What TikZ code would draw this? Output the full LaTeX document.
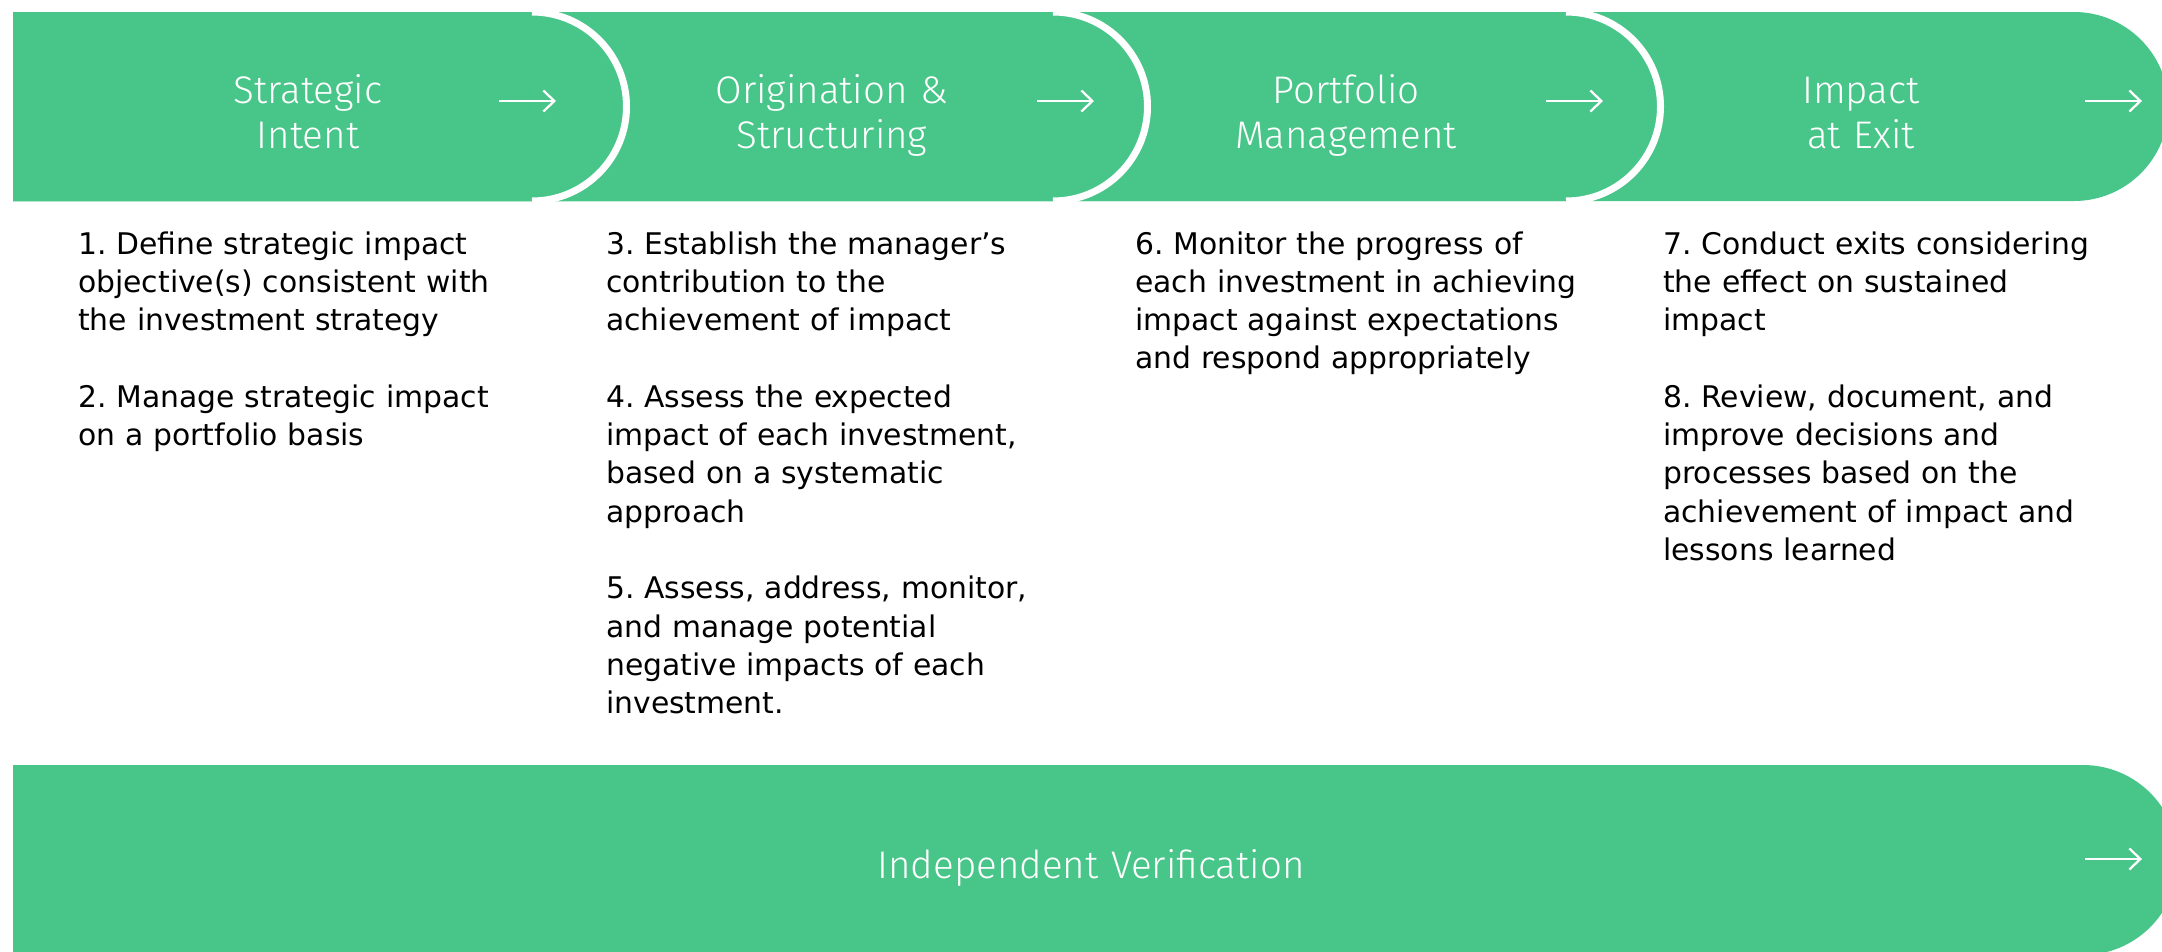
\documentclass[tikz,border=0pt]{standalone}
\usepackage{fontspec}
\setmainfont{DejaVu Sans}
\newfontfamily\headfont{Fira Sans Light}
\usetikzlibrary{arrows.meta}
\definecolor{brandgreen}{RGB}{72,197,137}
\frenchspacing
\tikzset{
  seg/.style={fill=brandgreen},
  capline/.style={draw=white,line width=7pt},
  stagearrow/.style={draw=white,line width=2.3pt,-{Straight Barb[length=11pt,width=21pt]}},
  heading/.style={text=white,font=\headfont\fontsize{38.5}{45}\selectfont,align=center,text width=420pt,anchor=base,inner sep=0pt},
  body/.style={text=black,font=\frenchspacing\fontsize{29.8}{38.3}\selectfont,align=left,text width=520pt,anchor=base west,inner sep=0pt}
}
\begin{document}
\begin{tikzpicture}[x=1pt,y=-1pt]
\useasboundingbox (0,0) rectangle (2162,951);
\clip (0,0) rectangle (2162,951);
% top band
\begin{scope}
\clip (0,12) rectangle (2162,201);
\fill[seg] (13,12) -- (2074,12) arc[start angle=-90,end angle=90,radius=94.5] -- (13,201) -- cycle;
\fill[seg] (13,12) -- (1566,12) arc[start angle=-90,end angle=90,radius=94.5] -- (13,201) -- cycle;
\draw[capline] (1566,12) arc[start angle=-90,end angle=90,radius=94.5];
\fill[seg] (13,12) -- (1053,12) arc[start angle=-90,end angle=90,radius=94.5] -- (13,201) -- cycle;
\draw[capline] (1053,12) arc[start angle=-90,end angle=90,radius=94.5];
\fill[seg] (13,12) -- (532,12) arc[start angle=-90,end angle=90,radius=94.5] -- (13,201) -- cycle;
\draw[capline] (532,12) arc[start angle=-90,end angle=90,radius=94.5];
\end{scope}
% bottom bar
\fill[seg] (13,765) -- (2083,765) arc[start angle=-90,end angle=90,radius=95] -- (13,955) -- cycle;
% headings
\node[heading] (h1) at (308,103) {Strategic\\Intent};
\node[heading] (h2) at (832,103) {Origination \&\\Structuring};
\node[heading] (h3) at (1346,103) {Portfolio\\Management};
\node[heading] (h4) at (1861,103) {Impact\\at Exit};
\node[heading,text width=800pt] (hv) at (1091,878) {Independent Verification};
% arrows
\coordinate (a1s) at (499,101); \coordinate (a1e) at (556,101);
\coordinate (a2s) at (1037,101); \coordinate (a2e) at (1094,101);
\coordinate (a3s) at (1546,101); \coordinate (a3e) at (1603,101);
\coordinate (a4s) at (2085,101); \coordinate (a4e) at (2142,101);
\coordinate (a5s) at (2085,859); \coordinate (a5e) at (2142,859);
\draw[stagearrow] (a1s) -- (a1e);
\draw[stagearrow] (a2s) -- (a2e);
\draw[stagearrow] (a3s) -- (a3e);
\draw[stagearrow] (a4s) -- (a4e);
\draw[stagearrow] (a5s) -- (a5e);
% body texts
\node[body] (b1) at (78,254) {1. Define strategic impact\\objective(s) consistent with\\the investment strategy\\[38.3pt]2. Manage strategic impact\\on a portfolio basis};
\node[body] (b2) at (606,254) {3. Establish the manager’s\\contribution to the\\achievement of impact\\[38.3pt]4. Assess the expected\\impact of each investment,\\based on a systematic\\approach\\[38.3pt]5. Assess, address, monitor,\\and manage potential\\negative impacts of each\\investment.};
\node[body] (b3) at (1135,254) {6. Monitor the progress of\\each investment in achieving\\impact against expectations\\and respond appropriately};
\node[body] (b4) at (1663,254) {7. Conduct exits considering\\the effect on sustained\\impact\\[38.3pt]8. Review, document, and\\improve decisions and\\processes based on the\\achievement of impact and\\lessons learned};
\end{tikzpicture}
\end{document}
